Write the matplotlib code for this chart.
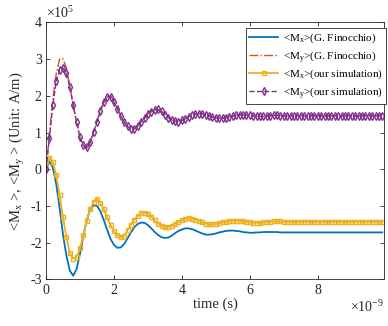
import numpy as np
import matplotlib
matplotlib.use("Agg")
import matplotlib.pyplot as plt

plt.rcParams['font.family'] = ['Liberation Serif', 'DejaVu Serif']
plt.rcParams['mathtext.fontset'] = 'custom'
plt.rcParams['mathtext.rm'] = 'Liberation Serif'
plt.rcParams['mathtext.it'] = 'Liberation Serif:italic'
plt.rcParams['axes.unicode_minus'] = False

# time in units of 1e-9 s, values in units of 1e5 A/m
t = np.round(np.arange(0, 100) * 0.1, 1)

mx_fin = [0.0, 0.22, 0.05, -0.4, -1.05, -1.78, -2.35, -2.76, -2.9, -2.72,
          -2.3, -1.82, -1.38, -1.1, -0.98, -1.0, -1.14, -1.38, -1.65, -1.9,
          -2.06, -2.14, -2.13, -2.04, -1.88, -1.72, -1.58, -1.49, -1.45, -1.46,
          -1.52, -1.61, -1.71, -1.79, -1.85, -1.87, -1.86, -1.81, -1.74, -1.68,
          -1.64, -1.61, -1.61, -1.63, -1.67, -1.71, -1.75, -1.78, -1.78, -1.77,
          -1.75, -1.72, -1.70, -1.68, -1.67, -1.67, -1.68, -1.69, -1.71, -1.72,
          -1.73, -1.73, -1.72, -1.72, -1.71, -1.71, -1.71, -1.71, -1.71, -1.72,
          -1.72, -1.72, -1.72, -1.72, -1.72, -1.72, -1.72, -1.72, -1.72, -1.72,
          -1.72, -1.72, -1.72, -1.72, -1.72, -1.72, -1.72, -1.72, -1.72, -1.72,
          -1.72, -1.72, -1.72, -1.72, -1.72, -1.72, -1.72, -1.72, -1.72, -1.72]

my_fin = [0.0, 0.95, 1.9, 2.6, 3.0, 3.02, 2.75, 2.28, 1.75, 1.25,
          0.85, 0.62, 0.58, 0.72, 1.0, 1.3, 1.6, 1.83, 1.98, 2.0,
          1.87, 1.67, 1.46, 1.28, 1.16, 1.1, 1.1, 1.17, 1.29, 1.4,
          1.51, 1.59, 1.63, 1.62, 1.57, 1.49, 1.41, 1.35, 1.31, 1.30,
          1.33, 1.38, 1.43, 1.47, 1.50, 1.51, 1.51, 1.48, 1.45, 1.42,
          1.40, 1.39, 1.39, 1.41, 1.43, 1.45, 1.47, 1.48, 1.48, 1.48,
          1.47, 1.46, 1.45, 1.44, 1.44, 1.45, 1.46, 1.47, 1.47, 1.46,
          1.45, 1.45, 1.45, 1.46, 1.46, 1.46, 1.45, 1.45, 1.46, 1.46,
          1.46, 1.45, 1.45, 1.46, 1.46, 1.46, 1.45, 1.45, 1.46, 1.46,
          1.46, 1.45, 1.45, 1.46, 1.46, 1.46, 1.45, 1.45, 1.46, 1.46]

mx_sim = [0.0, 0.32, 0.19, -0.15, -0.7, -1.3, -1.85, -2.28, -2.44, -2.38,
          -2.15, -1.8, -1.4, -1.08, -0.89, -0.81, -0.92, -1.09, -1.31, -1.53,
          -1.69, -1.8, -1.85, -1.81, -1.66, -1.51, -1.37, -1.28, -1.2, -1.18,
          -1.22, -1.29, -1.39, -1.48, -1.54, -1.57, -1.57, -1.54, -1.49, -1.44,
          -1.39, -1.36, -1.34, -1.35, -1.37, -1.41, -1.45, -1.48, -1.50, -1.50,
          -1.49, -1.47, -1.45, -1.43, -1.41, -1.40, -1.40, -1.41, -1.42, -1.44,
          -1.45, -1.46, -1.46, -1.46, -1.45, -1.44, -1.43, -1.42, -1.42, -1.42,
          -1.43, -1.43, -1.44, -1.44, -1.44, -1.44, -1.43, -1.43, -1.43, -1.43,
          -1.43, -1.43, -1.43, -1.43, -1.43, -1.43, -1.43, -1.43, -1.43, -1.43,
          -1.43, -1.43, -1.43, -1.43, -1.43, -1.43, -1.43, -1.43, -1.43, -1.43]

my_sim = [0.0, 0.85, 1.75, 2.4, 2.7, 2.76, 2.62, 2.25, 1.75, 1.3,
          0.88, 0.65, 0.6, 0.73, 1.01, 1.3, 1.6, 1.82, 1.97, 1.97,
          1.83, 1.65, 1.45, 1.28, 1.17, 1.11, 1.11, 1.17, 1.3, 1.39,
          1.5, 1.57, 1.62, 1.63, 1.58, 1.49, 1.41, 1.35, 1.31, 1.30,
          1.33, 1.38, 1.43, 1.47, 1.50, 1.51, 1.51, 1.48, 1.45, 1.42,
          1.40, 1.39, 1.39, 1.41, 1.43, 1.45, 1.47, 1.48, 1.48, 1.48,
          1.47, 1.46, 1.45, 1.44, 1.44, 1.45, 1.46, 1.47, 1.47, 1.46,
          1.45, 1.45, 1.45, 1.46, 1.46, 1.46, 1.45, 1.45, 1.46, 1.46,
          1.46, 1.45, 1.45, 1.46, 1.46, 1.46, 1.45, 1.45, 1.46, 1.46,
          1.46, 1.45, 1.45, 1.46, 1.46, 1.46, 1.45, 1.45, 1.46, 1.46]

labels = [r'<M$_\mathrm{x}$>(G. Finocchio)', r'<M$_\mathrm{y}$>(G. Finocchio)',
          r'<M$_\mathrm{x}$>(our simulation)', r'<M$_\mathrm{y}$>(our simulation)']

xticks = [0, 2, 4, 6, 8]
yticks = [-3, -2, -1, 0, 1, 2, 3, 4]

c_blue = '#0072BD'
c_orange = '#D95319'
c_yellow = '#EDB120'
c_purple = '#7E2F8E'

fig = plt.figure(figsize=(3.88, 3.26), dpi=100)
ax = fig.add_axes([0.1186, 0.143, 0.8711, 0.788])

ax.plot(t, mx_fin, '-', color=c_blue, lw=1.3, label=labels[0])
ax.plot(t, my_fin, '-.', color=c_orange, lw=1.0, label=labels[1])
ax.plot(t, mx_sim, '-', color=c_yellow, lw=1.3, marker='s', ms=3.5,
        mfc='none', mec=c_yellow, mew=1.0, label=labels[2])
ax.plot(t, my_sim, '--', color=c_purple, lw=1.0, marker='d', ms=4.0,
        mfc='none', mec=c_purple, mew=1.0, label=labels[3])

ax.set_xlim(0, 9.95)
ax.set_ylim(-3, 4)
ax.set_xticks(xticks)
ax.set_yticks(yticks)
ax.set_xticklabels([str(v) for v in xticks])
ax.set_yticklabels([str(v) for v in yticks])
ax.tick_params(direction='in', top=True, right=True, length=3, width=0.6,
               labelsize=10, pad=3, colors='#262626')
for s in ax.spines.values():
    s.set_linewidth(0.6)
    s.set_color('#262626')

ax.set_xlabel('time (s)', fontsize=10.5, labelpad=1, color='#262626')
ax.set_ylabel(r'<M$_\mathrm{x}$ >, <M$_\mathrm{y}$ > (Unit: A/m)', fontsize=10.5,
              labelpad=2, color='#262626')

ax.text(0.0, 1.005, r'$\times$10$^{5}$', transform=ax.transAxes, fontsize=10,
        ha='left', va='bottom', color='#262626')
ax.text(1.0, -0.075, r'$\times$10$^{-9}$', transform=ax.transAxes, fontsize=10,
        ha='right', va='top', color='#262626')

leg = ax.legend(loc='upper right', bbox_to_anchor=(1.006, 0.977), fontsize=8,
                frameon=True, fancybox=False, edgecolor='#262626',
                framealpha=1, borderpad=0.3, labelspacing=0.3,
                handlelength=2.6, handletextpad=0.4, borderaxespad=0.0)
leg.get_frame().set_linewidth(0.6)

fig.savefig('out.png', dpi=100)
